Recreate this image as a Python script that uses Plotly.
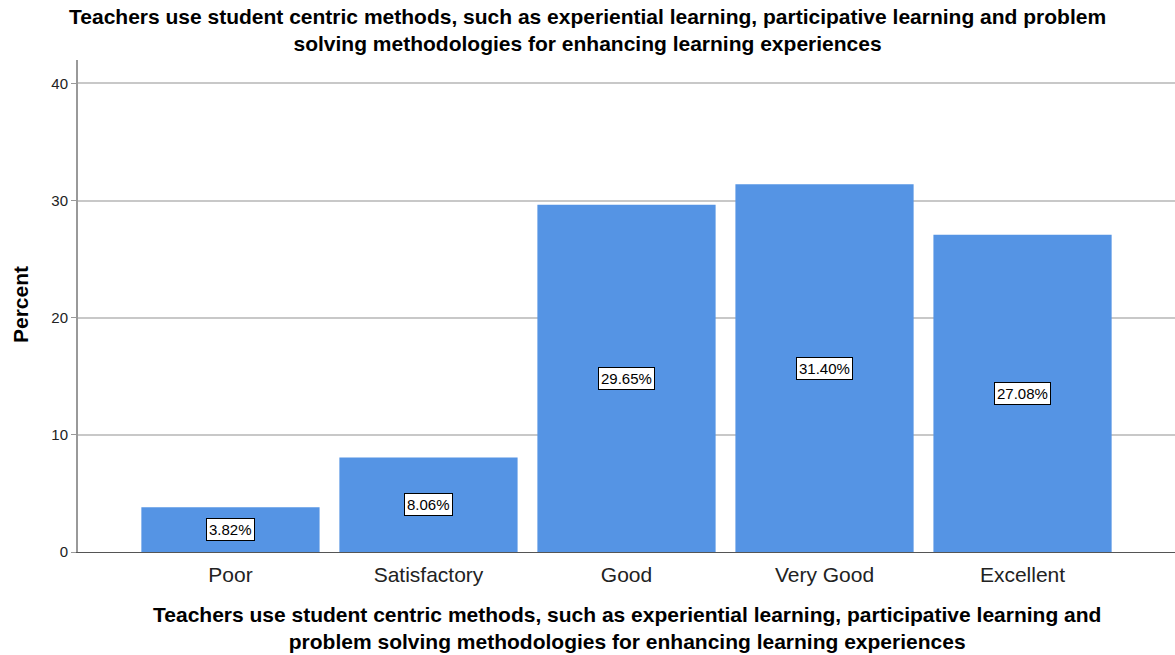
import plotly.graph_objects as go

categories = ["Poor", "Satisfactory", "Good", "Very Good", "Excellent"]
percents = [3.82, 8.06, 29.65, 31.40, 27.08]
y_ticks = [0, 10, 20, 30, 40]

title_text = ("Teachers use student centric methods, such as experiential learning, participative learning and problem<br>"
              "solving methodologies for enhancing learning experiences")
xtitle_text = ("Teachers use student centric methods, such as experiential learning, participative learning and<br>"
               "problem solving methodologies for enhancing learning experiences")

# plot area in pixels: x 78..1175, y 60..552
L, R, T, B = 78, 1175, 60, 552
W, H = R - L, B - T


def px(x):
    return (x - L) / W


def py(y):
    return (B - y) / H


fig = go.Figure()
fig.add_bar(
    x=categories,
    y=percents,
    width=0.9,
    marker=dict(color="#5594e4", line=dict(width=0)),
    hoverinfo="skip",
)

# percent labels sit in the middle of each bar, boxed like SPSS output
for cat, val in zip(categories, percents):
    fig.add_annotation(
        x=cat, y=val / 2, xref="x", yref="y",
        text=f"{val:.2f}%", showarrow=False,
        font=dict(family="Arial", size=15, color="black"),
        bgcolor="white", bordercolor="black", borderwidth=1, borderpad=2,
    )

bold = dict(family="Arial", size=21, color="black", weight="bold")
fig.add_annotation(x=px(587.5), y=py(30.5), xref="paper", yref="paper",
                   text=title_text, showarrow=False, font=bold,
                   xanchor="center", yanchor="middle")
fig.add_annotation(x=px(626.5), y=py(628), xref="paper", yref="paper",
                   text=xtitle_text, showarrow=False, font=bold,
                   xanchor="center", yanchor="middle")
fig.add_annotation(x=px(20), y=py(305), xref="paper", yref="paper",
                   text="Percent", showarrow=False, textangle=-90,
                   font=bold, xanchor="center", yanchor="middle")

fig.update_layout(
    width=1175,
    height=655,
    paper_bgcolor="white",
    plot_bgcolor="white",
    margin=dict(l=L, r=1175 - R, t=T, b=655 - B, autoexpand=False),
    showlegend=False,
    bargap=0.1,
    font=dict(family="Arial", color="black"),
)
fig.update_xaxes(
    range=[-0.77, 4.77],
    showline=True, linecolor="#555555", linewidth=1,
    ticks="", ticklabelstandoff=4,
    tickfont=dict(size=21, family="Arial", color="#222222"),
    showgrid=False, automargin=False,
)
fig.update_yaxes(
    range=[0, 42],
    tickvals=y_ticks,
    showline=True, linecolor="#999999", linewidth=2,
    ticks="outside", ticklen=5, tickcolor="#999999",
    tickfont=dict(size=15, family="Arial", color="#222222"),
    showgrid=True, gridcolor="#c8c8c8", gridwidth=1.5,
    zeroline=False, automargin=False,
)

# drop the default 8px page margin so the figure fills the window
fig.write_html("out.html", config={"displayModeBar": False},
               post_script="document.body.style.margin='0';")
